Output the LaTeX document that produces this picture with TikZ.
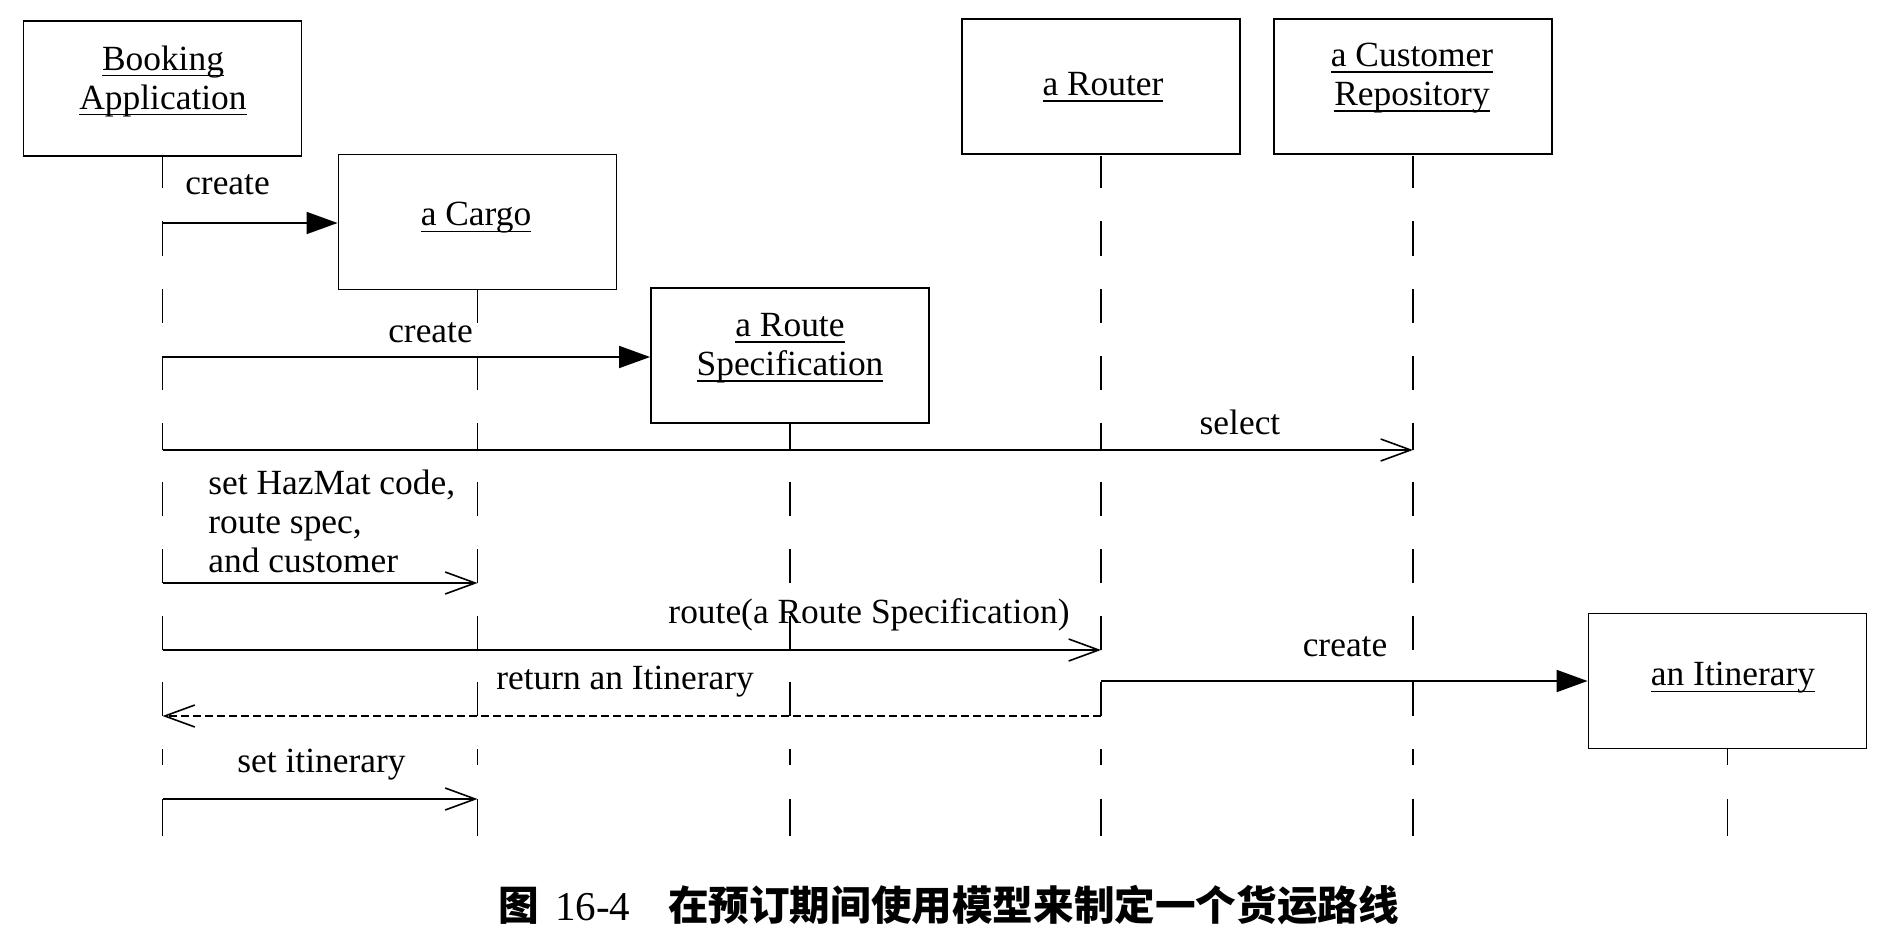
\documentclass[tikz,border=0pt]{standalone}
\usepackage{fontspec}
\setmainfont{Liberation Serif}
\newfontfamily\cjk{Noto Sans CJK SC}
\usetikzlibrary{arrows.meta}
\newcommand\myul[1]{\setbox0\hbox{#1}\rlap{\rule[-3.2pt]{\wd0}{0.8pt}}\box0}
\begin{document}
\begin{tikzpicture}[x=0.5pt,y=-0.5pt,
  obj/.style={draw,line width=0.9pt,inner sep=0pt,minimum width=139pt,minimum height=67.5pt},
  lbl/.style={font=\fontsize{17.7}{19.5}\selectfont,inner sep=0pt,align=center},
  life/.style={line width=0.8pt},
  msg/.style={line width=0.9pt},
  create/.style={msg,-{Triangle[length=15.5pt,width=11pt]}},
  call/.style={msg,-{Straight Barb[length=15pt,width=11pt,line width=0.8pt]}},
  ret/.style={line width=0.7pt,dash pattern=on 4pt off 2pt,-{Straight Barb[length=15pt,width=11pt,line width=0.8pt]}}]
\useasboundingbox (0,0) rectangle (1880,938);
% objects
\node[obj] (book) at (162.5,88.5) {};
\node[obj] (cargo) at (477.5,222) {};
\node[obj] (rspec) at (790,355.5) {};
\node[obj] (router) at (1101,86.5) {};
\node[obj] (cust) at (1413,86.5) {};
\node[obj] (itin) at (1727.5,681) {};
\node[lbl] (book-t) at (163,81) {\myul{Booking}\\\myul{Application}};
\node[lbl] (cargo-t) at (476,218) {\myul{a Cargo}};
\node[lbl] (rspec-t) at (790,348) {\myul{a Route}\\\myul{Specification}};
\node[lbl] (router-t) at (1103,87) {\myul{a Router}};
\node[lbl] (cust-t) at (1412,78) {\myul{a Customer}\\\myul{Repository}};
\node[lbl] (itin-t) at (1733,678) {\myul{an Itinerary}};
% lifelines
\foreach \a/\b in {156/188,221/256,289/323,356/390,423/450,482/516,549/583,616/650,682/716,749/765,799/836}{
  \draw[life] (book.south |- 0,\a) -- (book.south |- 0,\b);
  \draw[life] (router.south |- 0,\a) -- (router.south |- 0,\b);
  \draw[life] (cust.south |- 0,\a) -- (cust.south |- 0,\b);
}
\foreach \a/\b in {290/323,356/390,423/450,482/516,549/583,616/650,682/716,749/765,799/836}
  \draw[life] (cargo.south |- 0,\a) -- (cargo.south |- 0,\b);
\foreach \a/\b in {423/450,482/516,549/583,616/650,682/716,749/765,799/836}
  \draw[life] (rspec.south |- 0,\a) -- (rspec.south |- 0,\b);
\foreach \a/\b in {749/765,799/836}
  \draw[life] (itin.south |- 0,\a) -- (itin.south |- 0,\b);
% messages
\coordinate (m1s) at (book.south |- 0,223);
\draw[create] (m1s) -- (m1s -| cargo.west);
\node[lbl] (m1l) at (227.5,185) {create};
\coordinate (m2s) at (book.south |- 0,357);
\draw[create] (m2s) -- (m2s -| rspec.west);
\node[lbl] (m2l) at (430.5,333) {create};
\coordinate (m3s) at (book.south |- 0,450);
\draw[call] (m3s) -- (m3s -| cust.south);
\node[lbl] (m3l) at (1240,422) {select};
\coordinate (m4s) at (book.south |- 0,583);
\draw[call] (m4s) -- (m4s -| cargo.south);
\node[lbl,align=left,anchor=west] (m4l) at (208,521) {set HazMat code,\\route spec,\\and customer};
\coordinate (m5s) at (book.south |- 0,650);
\draw[call] (m5s) -- (m5s -| router.south);
\node[lbl] (m5l) at (869,615) {route(a Route Specification)};
\coordinate (m6s) at (router.south |- 0,716);
\draw[ret] (m6s) -- (m6s -| book.south);
\node[lbl] (m6l) at (625,682) {return an Itinerary};
\coordinate (m7s) at (router.south |- 0,681);
\draw[create] (m7s) -- (m7s -| itin.west);
\node[lbl] (m7l) at (1345,647) {create};
\coordinate (m8s) at (book.south |- 0,799);
\draw[call] (m8s) -- (m8s -| cargo.south);
\node[lbl] (m8l) at (321.5,765) {set itinerary};
% caption
\node[inner sep=0pt,anchor=west] (cap) at (498,905) {{\fontsize{20.3}{24}\cjk\bfseries 图}\hspace{8pt}{\fontsize{20.5}{24}\selectfont 16-4}\hspace{19pt}{\fontsize{20.3}{24}\cjk\bfseries 在预订期间使用模型来制定一个货运路线}};
\end{tikzpicture}
\end{document}
